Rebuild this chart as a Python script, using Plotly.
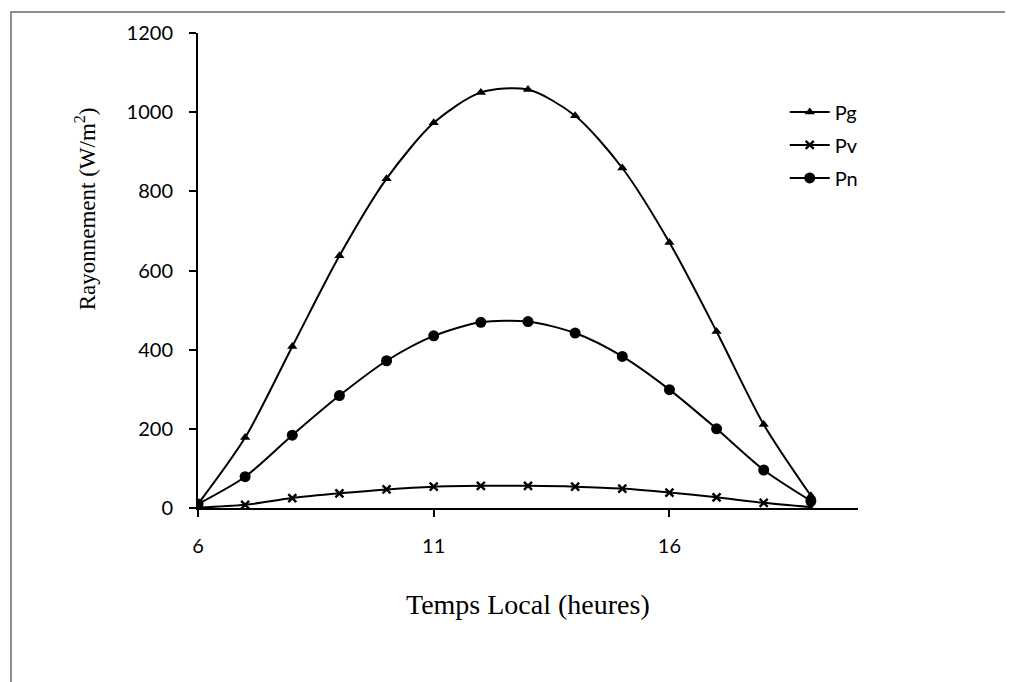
import plotly.graph_objects as go

hours = [6, 7, 8, 9, 10, 11, 12, 13, 14, 15, 16, 17, 18, 19]
pg = [10, 178, 408, 637, 832, 973, 1050, 1057, 991, 859, 671, 446, 211, 31]
pv = [1, 8, 25, 37, 47, 54, 56, 56, 54, 49, 39, 27, 13, 2]
pn = [10, 79, 184, 284, 372, 435, 469, 471, 442, 383, 299, 200, 96, 18]
series_names = ["Pg", "Pv", "Pn"]
x_title = "Temps Local (heures)"
y_title = "Rayonnement (W/m<sup>2</sup>)"

tick_font = dict(family="Lato, Open Sans, sans-serif", size=20, color="black")
serif = "Liberation Serif, Times New Roman, serif"

fig = go.Figure()
fig.add_trace(go.Scatter(x=hours, y=pg, name=series_names[0], mode="lines+markers",
                         legendgroup="g1",
                         line=dict(color="black", width=2, shape="spline", smoothing=0.8),
                         marker=dict(symbol="triangle-up", size=9, color="black")))
fig.add_trace(go.Scatter(x=hours, y=pv, name=series_names[1], mode="lines+markers",
                         legendgroup="g2",
                         line=dict(color="black", width=2, shape="spline", smoothing=0.8),
                         marker=dict(symbol="x-thin", size=8, color="black",
                                     line=dict(color="black", width=2.4))))
fig.add_trace(go.Scatter(x=hours, y=pn, name=series_names[2], mode="lines+markers",
                         legendgroup="g3",
                         line=dict(color="black", width=2, shape="spline", smoothing=0.8),
                         marker=dict(symbol="circle", size=11, color="black")))

fig.update_layout(
    width=1013, height=682,
    margin=dict(l=190, r=163, t=23, b=182),
    paper_bgcolor="white", plot_bgcolor="white",
    showlegend=True,
    legend=dict(x=0.889, y=0.875, xanchor="left", yanchor="top",
                font=tick_font, bgcolor="rgba(0,0,0,0)", tracegroupgap=4,
                itemwidth=40),
    xaxis=dict(range=[6, 20], tickmode="array", tickvals=[6, 11, 16],
               ticktext=["6", "11", "16"],
               showline=True, linecolor="black", linewidth=2,
               ticks="outside", ticklen=7, tickwidth=2, tickcolor="black",
               showgrid=False, zeroline=False, tickfont=tick_font,
               ticklabelstandoff=12),
    yaxis=dict(range=[0, 1200], tickmode="array",
               tickvals=[0, 200, 400, 600, 800, 1000, 1200],
               showline=True, linecolor="black", linewidth=2,
               ticks="outside", ticklen=7, tickwidth=2, tickcolor="black",
               showgrid=False, zeroline=False, tickfont=tick_font,
               ticklabelstandoff=12),
)

fig.add_annotation(text=x_title, xref="paper", yref="paper", x=0.5, y=-0.203,
                   xanchor="center", yanchor="middle", showarrow=False,
                   font=dict(family=serif, size=28, color="black"))
fig.add_annotation(text=y_title, xref="paper", yref="paper", x=-0.171, y=0.629,
                   xanchor="center", yanchor="middle", showarrow=False, textangle=-90,
                   font=dict(family=serif, size=23, color="black"))

fig.add_shape(type="rect", xref="paper", yref="paper", x0=-0.2833, y0=-2, x1=3, y1=1.044,
              line=dict(color="#8c8c8c", width=2), fillcolor="rgba(0,0,0,0)", layer="below")

fig.write_html("out.html")
